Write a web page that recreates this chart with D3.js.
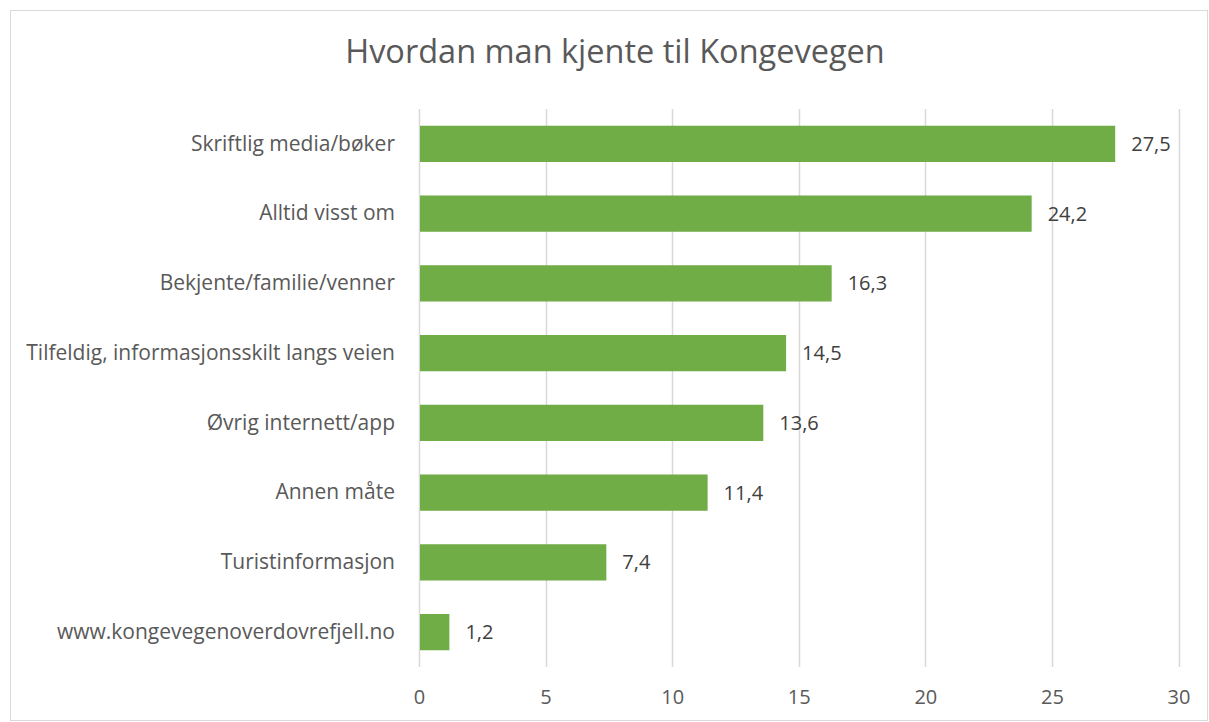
<!DOCTYPE html>
<html>
<head>
<meta charset="utf-8">
<script src="https://cdn.jsdelivr.net/npm/d3@7"></script>
<style>
  body { margin: 0; background: #fff; }
  svg text { font-family: "Open Sans", "Noto Sans", sans-serif; }
</style>
</head>
<body>
<svg id="chart" width="1209" height="722"></svg>
<script>
// data
var categories = [
  "Skriftlig media/bøker",
  "Alltid visst om",
  "Bekjente/familie/venner",
  "Tilfeldig, informasjonsskilt langs veien",
  "Øvrig internett/app",
  "Annen måte",
  "Turistinformasjon",
  "www.kongevegenoverdovrefjell.no"
];
var values = [27.5, 24.2, 16.3, 14.5, 13.6, 11.4, 7.4, 1.2];
var tickValues = [0, 5, 10, 15, 20, 25, 30];

var svg = d3.select("#chart"),
    width = +svg.attr("width"),
    height = +svg.attr("height");

var margin = {top: 109, right: 30, bottom: 55, left: 419};

var fmt = function(v) { return d3.format(".1f")(v).replace(".", ","); };

// chart frame
svg.append("rect")
  .attr("x", 10.5).attr("y", 10.5)
  .attr("width", width - 12).attr("height", height - 12)
  .attr("fill", "#fff")
  .attr("stroke", "#d9d9d9");

svg.append("text")
  .attr("x", 615)
  .attr("y", 63)
  .attr("text-anchor", "middle")
  .attr("font-size", 32.5)
  .attr("fill", "#595959")
  .text("Hvordan man kjente til Kongevegen");

var x = d3.scaleLinear()
  .domain([0, 30])
  .range([margin.left, 1178.5]);

var y = d3.scaleBand()
  .domain(categories)
  .range([margin.top, 667])
  .paddingInner(0.48)
  .paddingOuter(0.24);

// gridlines
svg.selectAll(".grid")
  .data(tickValues)
  .enter().append("line")
    .attr("class", "grid")
    .attr("x1", function(d) { return Math.round(x(d)) + 0.5; })
    .attr("x2", function(d) { return Math.round(x(d)) + 0.5; })
    .attr("y1", margin.top)
    .attr("y2", 667)
    .attr("stroke", "#d9d9d9")
    .attr("stroke-width", 1.5);

// bars
svg.selectAll(".bar")
  .data(values)
  .enter().append("rect")
    .attr("class", "bar")
    .attr("x", x(0) + 1)
    .attr("y", function(d, i) { return y(categories[i]); })
    .attr("width", function(d) { return x(d) - x(0) - 1; })
    .attr("height", y.bandwidth())
    .attr("fill", "#70ad47");

// value labels
svg.selectAll(".val")
  .data(values)
  .enter().append("text")
    .attr("class", "val")
    .attr("x", function(d) { return x(d) + 16; })
    .attr("y", function(d, i) { return y(categories[i]) + y.bandwidth() / 2; })
    .attr("dy", "0.35em")
    .attr("font-size", 20)
    .attr("fill", "#404040")
    .text(fmt);

// category axis
var yAxis = svg.append("g")
  .attr("transform", "translate(" + (margin.left - 24) + ",0)")
  .call(d3.axisLeft(y).tickSize(0).tickPadding(0));
yAxis.select(".domain").remove();
yAxis.selectAll("text")
  .attr("font-size", 21)
  .attr("fill", "#595959")
  .attr("font-family", "Open Sans");

// value axis
var xAxis = svg.append("g")
  .attr("transform", "translate(0,667)")
  .call(d3.axisBottom(x).tickValues(tickValues).tickSize(0).tickPadding(23));
xAxis.select(".domain").remove();
xAxis.selectAll("text")
  .attr("font-size", 20)
  .attr("fill", "#595959")
  .attr("font-family", "Open Sans");
</script>
</body>
</html>
